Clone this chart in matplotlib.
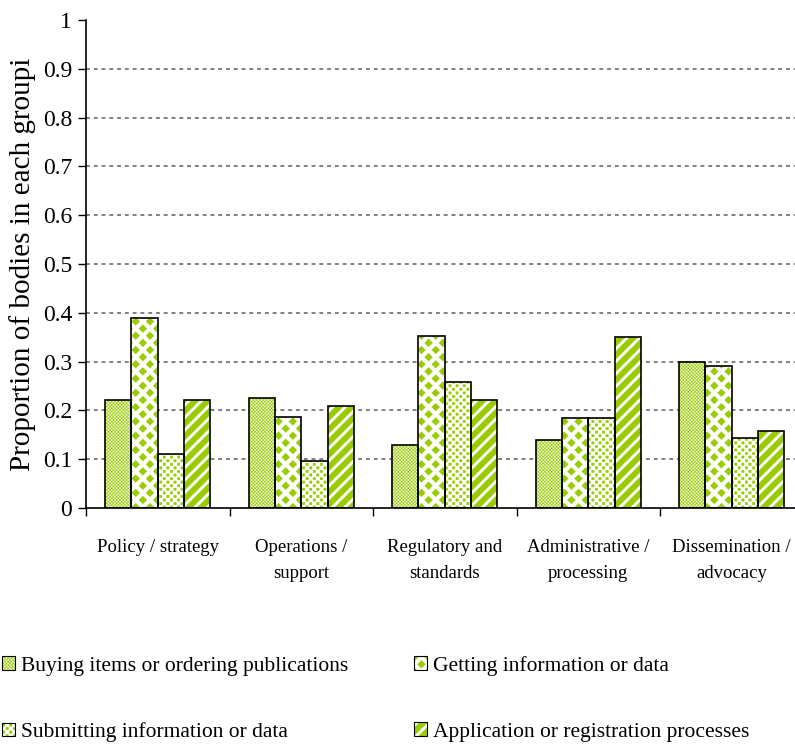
import numpy as np
import matplotlib
matplotlib.use('Agg')
import matplotlib.pyplot as plt
import matplotlib.hatch as mhatch
from matplotlib.path import Path
from matplotlib.patches import Patch
from matplotlib.legend_handler import HandlerTuple

categories = ['Policy / strategy', 'Operations /\nsupport', 'Regulatory and\nstandards',
              'Administrative /\nprocessing', 'Dissemination /\nadvocacy']
series = ['Buying items or ordering publications', 'Getting information or data',
          'Submitting information or data', 'Application or registration processes']
buying = [0.222, 0.226, 0.130, 0.140, 0.300]
getting = [0.389, 0.187, 0.352, 0.185, 0.292]
submitting = [0.111, 0.097, 0.259, 0.185, 0.143]
application = [0.222, 0.208, 0.222, 0.350, 0.158]
yticks = [0, 0.1, 0.2, 0.3, 0.4, 0.5, 0.6, 0.7, 0.8, 0.9, 1]
ytick_labels = ['0', '0.1', '0.2', '0.3', '0.4', '0.5', '0.6', '0.7', '0.8', '0.9', '1']

green = '#99cc00'


# --- custom fill patterns (the Excel-style textures) ---
class Staggered(mhatch.HatchPatternBase):
    char = '*'
    per_inch = 7
    half_w = 0.28
    half_h = 0.28
    diamond = True

    def __init__(self, hatch, density):
        n = hatch.count(self.char) * self.per_inch
        self.parts = []
        if n:
            off = 1.0 / n
            w, h = self.half_w * off, self.half_h * off
            if self.diamond:
                shape = np.array([[0, h], [w, 0], [0, -h], [-w, 0], [0, h]])
            else:
                shape = np.array([[-w, -h], [w, -h], [w, h], [-w, h], [-w, -h]])
            for r in range(2 * n + 1):
                if r % 2 == 0:
                    cols = np.arange(n + 1) * off
                else:
                    cols = (np.arange(n) + 0.5) * off
                for c in cols:
                    self.parts.append(shape + [c, r * off / 2])
        self.num_vertices = 5 * len(self.parts)

    def set_vertices_and_codes(self, vertices, codes):
        one = [Path.MOVETO, Path.LINETO, Path.LINETO, Path.LINETO, Path.CLOSEPOLY]
        vertices[:] = np.concatenate(self.parts)
        codes[:] = one * len(self.parts)


class Dots(Staggered):
    char = 'o'
    per_inch = 14
    half_w = 0.18
    half_h = 0.18
    diamond = False


class Checker(Staggered):
    char = 'O'
    per_inch = 30
    half_w = 0.22
    half_h = 0.22
    diamond = False


class Stripes(mhatch.HatchPatternBase):
    char = '/'
    per_inch = 8
    width = 0.45

    def __init__(self, hatch, density):
        n = hatch.count(self.char) * self.per_inch
        self.parts = []
        if n:
            off = 1.0 / n
            bw = self.width * off * np.sqrt(2)
            for k in range(-n - 1, n + 1):
                c = k * off
                self.parts.append(np.array([[0, c], [1, 1 + c], [1, 1 + c + bw],
                                            [0, c + bw], [0, c]]))
        self.num_vertices = 5 * len(self.parts)

    set_vertices_and_codes = Staggered.set_vertices_and_codes


mhatch._hatch_types = [Staggered, Dots, Checker, Stripes]

plt.rcParams['font.family'] = ['Liberation Serif', 'DejaVu Serif']
plt.rcParams['hatch.linewidth'] = 0.2

fig = plt.figure(figsize=(7.95, 7.44), dpi=100)
ax = fig.add_axes([86 / 795, 236 / 744, 717.5 / 795, 488 / 744])

x = np.arange(len(categories))
w = 0.183
data = [buying, getting, submitting, application]
styles = [('O', 'white'), ('*', 'white'), ('o', 'white'), ('/', 'white')]

handles = []
for i, (vals, (h, fc)) in enumerate(zip(data, styles)):
    xs = x + (i - 1.5) * w
    ax.bar(xs, vals, w, color=fc, edgecolor=green, hatch=h, linewidth=0, zorder=2)
    ax.bar(xs, vals, w, fill=False, edgecolor='black', linewidth=1.2, zorder=3)
    handles.append((Patch(facecolor=fc, edgecolor=green, hatch=h, linewidth=0),
                    Patch(fill=False, edgecolor='black', linewidth=0.8)))

ax.set_xlim(-0.5, len(categories) - 0.5)
ax.set_ylim(0, 1)
ax.set_yticks(yticks)
ax.set_yticklabels(ytick_labels)
ax.set_xticks(x)
ax.set_xticklabels(categories, fontsize=13.5, linespacing=1.75)
ax.set_xticks(np.arange(len(categories) + 1) - 0.5, minor=True)
ax.tick_params(axis='x', which='major', length=0, pad=22)
ax.tick_params(axis='x', which='minor', length=6, width=1, direction='out')
ax.tick_params(axis='y', length=6, width=1, direction='out', labelsize=17, pad=4)

for v in yticks[1:-1]:
    ax.axhline(v, color='#808080', linestyle=(0, (2, 2)), linewidth=1.4, zorder=1)

for s in ['top', 'right']:
    ax.spines[s].set_visible(False)
ax.spines['left'].set_linewidth(1.2)
ax.spines['bottom'].set_linewidth(1.2)

ax.set_ylabel('Proportion of bodies in each groupi', fontsize=21, labelpad=5)

# legend fills column by column, so order items to get rows of two
order = [0, 2, 1, 3]
fig.legend([handles[k] for k in order], [series[k] for k in order],
           handler_map={tuple: HandlerTuple(ndivide=1, pad=0)},
           loc='center left', bbox_to_anchor=(0.002, 45 / 744), ncol=2,
           frameon=False, fontsize=15.5, handlelength=0.6, handleheight=0.6,
           handletextpad=0.3, labelspacing=2.15, columnspacing=3.05, borderpad=0,
           borderaxespad=0)

fig.savefig('out.png', dpi=100)
